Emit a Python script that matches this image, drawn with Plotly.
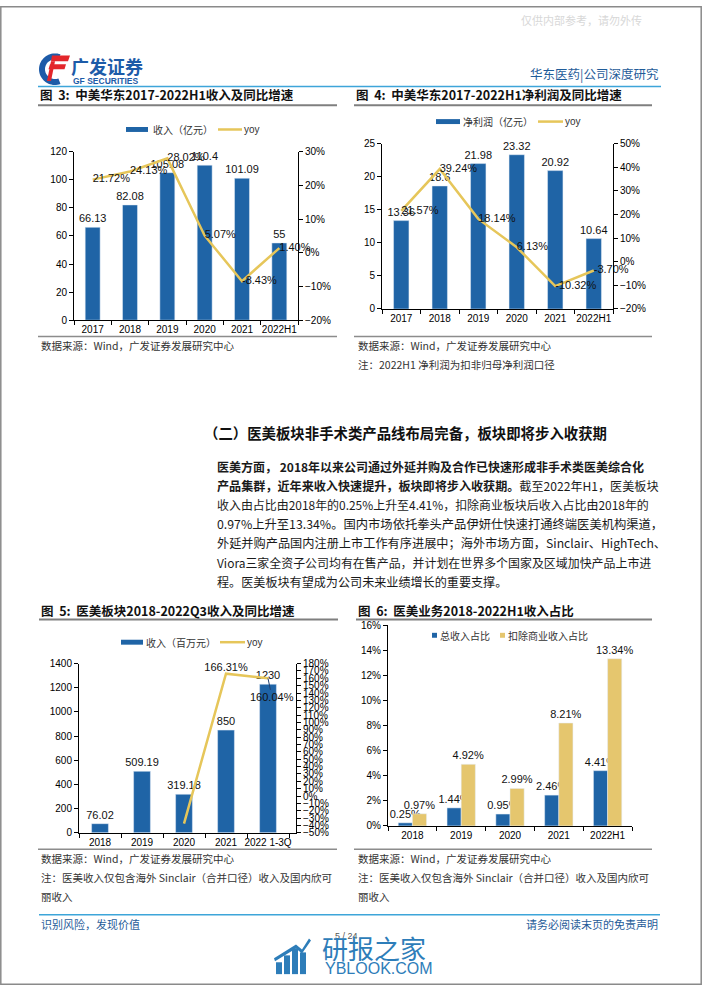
import plotly.graph_objects as go
import math

W, H = 702, 991

def X(p):
    return p / W

def Y(p):
    return 1 - p / H

# ---------------- data ----------------
years3 = ["2017", "2018", "2019", "2020", "2021", "2022H1"]
revenue3 = [66.13, 82.08, 105.08, 110.4, 101.09, 55]
revenue3_yoy = [21.72, 24.13, 28.02, 5.07, -8.43, 1.40]

years4 = ["2017", "2018", "2019", "2020", "2021", "2022H1"]
profit4 = [13.36, 18.6, 21.98, 23.32, 20.92, 10.64]
profit4_yoy = [21.57, 39.24, 18.14, 6.13, -10.32, -3.70]

years5 = ["2018", "2019", "2020", "2021", "2022 1-3Q"]
med5 = [76.02, 509.19, 319.18, 850, 1230]
med5_yoy = [None, None, -37.32, 166.31, 160.04]

years6 = ["2018", "2019", "2020", "2021", "2022H1"]
share_total6 = [0.25, 1.44, 0.95, 2.46, 4.41]
share_excl6 = [0.97, 4.92, 2.99, 8.21, 13.34]

BLUE = "#1F64A6"
YEL = "#E6C65A"
YEL_BAR = "#E5C66E"
NUMF = "Liberation Sans, Arial, sans-serif"
CJK = "Noto Sans CJK SC, sans-serif"
LBL = dict(size=11, color="#111", family=NUMF)

fig = go.Figure()

def bar(x, y, xa, ya, color, name, text, **kw):
    fig.add_trace(go.Bar(x=x, y=y, xaxis=xa, yaxis=ya, marker_color=color, text=text,
                         textposition="outside", constraintext="none", textfont=LBL,
                         cliponaxis=False, name=name, **kw))

# ---------- chart 3 ----------
bar(years3, revenue3, "x", "y", BLUE, "收入（亿元）", [f"{v:g}" for v in revenue3], width=0.4)
fig.add_trace(go.Scatter(x=years3, y=revenue3_yoy, xaxis="x", yaxis="y2", mode="lines+text",
                         line=dict(color=YEL, width=2.5), text=[f"{v:.2f}%" for v in revenue3_yoy],
                         textposition="middle right", textfont=LBL, cliponaxis=False, name="yoy"))
# ---------- chart 4 ----------
bar(years4, profit4, "x2", "y3", BLUE, "净利润（亿元）", [f"{v:g}" for v in profit4], width=0.4)
fig.add_trace(go.Scatter(x=years4, y=profit4_yoy, xaxis="x2", yaxis="y4", mode="lines+text",
                         line=dict(color=YEL, width=2.5), text=[f"{v:.2f}%" for v in profit4_yoy],
                         textposition="middle right", textfont=LBL, cliponaxis=False, name="yoy"))
# ---------- chart 5 ----------
bar(years5, med5, "x3", "y5", BLUE, "收入（百万元）", [f"{v:g}" for v in med5], width=0.4)
yoy5_text = ["" if v is None else f"{v:.2f}%" for v in med5_yoy]
yoy5_text[-1] = ""
fig.add_trace(go.Scatter(x=years5, y=med5_yoy, xaxis="x3", yaxis="y6", mode="lines+text",
                         line=dict(color=YEL, width=2.5), text=yoy5_text,
                         textposition=["middle right", "middle right", "middle right", "top center", "middle right"],
                         textfont=LBL, cliponaxis=False, connectgaps=False, name="yoy"))
fig.add_annotation(x=years5[-1], y=med5_yoy[-1], xref="x3", yref="y6", text=f"{med5_yoy[-1]:.2f}%",
                   showarrow=True, arrowhead=0, arrowwidth=1, arrowcolor="#1F3F6F", ax=4, ay=19,
                   font=LBL)
# ---------- chart 6 ----------
bar(years6, share_total6, "x4", "y7", BLUE, "总收入占比", [f"{v:.2f}%" for v in share_total6],
    width=0.29, offset=-0.29)
bar(years6, share_excl6, "x4", "y7", YEL_BAR, "扣除商业收入占比", [f"{v:.2f}%" for v in share_excl6],
    width=0.29, offset=0)

axbase = dict(showline=True, linecolor="#000", linewidth=1, ticks="outside", ticklen=4,
              tickcolor="#000", showgrid=False, zeroline=False,
              tickfont=dict(size=10, color="#000", family=NUMF))
xbase = dict(axbase, type="category", tickson="boundaries", tickangle=0, fixedrange=True)

fig.update_layout(
    xaxis=dict(xbase, domain=[X(74), X(298)], anchor="y"),
    yaxis=dict(axbase, domain=[Y(318), Y(147.5)], anchor="x", range=[0, 120], dtick=20),
    yaxis2=dict(axbase, overlaying="y", side="right", anchor="x", range=[-20, 30], dtick=10, ticksuffix="%"),
    xaxis2=dict(xbase, domain=[X(382), X(613)], anchor="y3"),
    yaxis3=dict(axbase, domain=[Y(306.7), Y(139.3)], anchor="x2", range=[0, 25], dtick=5),
    yaxis4=dict(axbase, overlaying="y3", side="right", anchor="x2", range=[-20, 50], dtick=10, ticksuffix="%"),
    xaxis3=dict(xbase, domain=[X(79), X(296)], anchor="y5"),
    yaxis5=dict(axbase, domain=[Y(837), Y(665.7)], anchor="x3", range=[0, 1400], dtick=200),
    yaxis6=dict(axbase, overlaying="y5", side="right", anchor="x3", range=[-50, 180], dtick=10, ticksuffix="%"),
    xaxis4=dict(xbase, domain=[X(388), X(632)], anchor="y7"),
    yaxis7=dict(axbase, domain=[Y(830), Y(627)], anchor="x4", range=[0, 16], dtick=2, ticksuffix="%"),
    width=W, height=H, margin=dict(l=0, r=0, t=0, b=0),
    paper_bgcolor="white", plot_bgcolor="rgba(0,0,0,0)", showlegend=False, barmode="group",
)

shapes = []
annots = []

def hline(y, x0, x1, color, width):
    shapes.append(dict(type="line", xref="paper", yref="paper", x0=X(x0), x1=X(x1), y0=Y(y), y1=Y(y),
                       line=dict(color=color, width=width)))

def rect(x0, y0, x1, y1, color):
    shapes.append(dict(type="rect", xref="paper", yref="paper", x0=X(x0), x1=X(x1), y0=Y(y1), y1=Y(y0),
                       fillcolor=color, line=dict(width=0)))

def path(points, color):
    d = "M " + " L ".join(f"{X(a):.5f},{Y(b):.5f}" for a, b in points) + " Z"
    shapes.append(dict(type="path", xref="paper", yref="paper", path=d, fillcolor=color, line=dict(width=0)))

def text(x, y, s, size, color="#222", family=CJK, anchor="left"):
    annots.append(dict(xref="paper", yref="paper", x=X(x), y=Y(y), text=s, showarrow=False,
                       xanchor=anchor, yanchor="middle", font=dict(size=size, color=color, family=family)))

# page border
shapes.append(dict(type="rect", xref="paper", yref="paper", x0=X(0.8), x1=X(701.2), y0=Y(990.2), y1=Y(0.8),
                   line=dict(color="#8A8A8A", width=1.5)))

# watermark top
text(519, 14, "仅供内部参考，请勿外传", 11, "#D8D8D8")

# logo
cx, cy = 55, 64
arc = []
for i in range(0, 41):
    a = math.radians(70 + i * 5.5)
    arc.append((cx + 16 * math.cos(a), cy - 16 * math.sin(a)))
for i in range(40, -1, -1):
    a = math.radians(70 + i * 5.5)
    arc.append((cx + 10 * math.cos(a), cy - 10 * math.sin(a)))
path(arc, "#1D5BA8")
path([(52, 50), (70, 50), (68, 56), (51, 56)], "#E3262B")
path([(50, 59), (66, 59), (64.5, 64), (48.5, 64)], "#E3262B")
path([(51, 56), (55, 56), (51, 76), (47, 76)], "#E3262B")
text(69, 61, "<b>广发证券</b>", 18, "#1D5BA8")
text(71, 76, "<b>GF SECURITIES</b>", 8.5, "#1D5BA8", NUMF)
text(661, 68, "华东医药|公司深度研究", 12.5, "#1F5C99", CJK, "right")
hline(81.5, 38, 661, "#3DA5D9", 1.5)

# figure titles
text(38, 90, "<b>图  3:  中美华东2017-2022H1收入及同比增速</b>", 12.5, "#111")
text(354, 90, "<b>图  4:  中美华东2017-2022H1净利润及同比增速</b>", 12.5, "#111")
hline(100.5, 38, 337, "#7F7F7F", 2)
hline(100.5, 354, 652, "#7F7F7F", 2)

# legends chart 3 & 4
rect(126, 122.5, 148, 127.5, BLUE)
text(151, 125, "收入（亿元）", 10, "#333")
hline(125, 218, 242, YEL, 2.5)
text(242, 125, "yoy", 10, "#333", NUMF)
rect(436, 114.5, 460, 119.5, BLUE)
text(461, 117, "净利润（亿元）", 10, "#333")
hline(117, 538, 563, YEL, 2.5)
text(563, 117, "yoy", 10, "#333", NUMF)

hline(334.5, 38, 337, "#8C8C8C", 1.5)
hline(334.5, 354, 652, "#8C8C8C", 1.5)
text(39, 344, "数据来源：Wind，广发证券发展研究中心", 10.5, "#333")
text(356, 344, "数据来源：Wind，广发证券发展研究中心", 10.5, "#333")
text(356, 363, "注：2022H1 净利润为扣非归母净利润口径", 10.5, "#333")

# section heading + paragraph
text(202, 432, "<b>（二）医美板块非手术类产品线布局完备，板块即将步入收获期</b>", 14.4, "#111")
para = [
    ("<b>医美方面， 2018年以来公司通过外延并购及合作已快速形成非手术类医美综合化</b>", 12.0),
    ("<b>产品集群，近年来收入快速提升，板块即将步入收获期。</b>截至2022年H1，医美板块", 12.1),
    ("收入由占比由2018年的0.25%上升至4.41%，扣除商业板块后收入占比由2018年的", 11.95),
    ("0.97%上升至13.34%。国内市场依托拳头产品伊妍仕快速打通终端医美机构渠道，", 12.3),
    ("外延并购产品国内注册上市工作有序进展中；海外市场方面，Sinclair、HighTech、", 12.2),
    ("Viora三家全资子公司均有在售产品，并计划在世界多个国家及区域加快产品上市进", 11.95),
    ("程。医美板块有望成为公司未来业绩增长的重要支撑。", 12.1),
]
for i, (s, sz) in enumerate(para):
    text(215, 466 + i * 19.4, s, sz, "#1A1A1A")

# figure 5 / 6 titles
text(39, 612, "<b>图  5:  医美板块2018-2022Q3收入及同比增速</b>", 12.5, "#111")
text(356, 612, "<b>图  6:  医美业务2018-2022H1收入占比</b>", 12.5, "#111")
hline(621, 39, 338, "#7F7F7F", 2)
hline(621, 356, 652, "#7F7F7F", 2)

rect(121, 641.5, 143, 646.5, BLUE)
text(144, 644, "收入（百万元）", 10, "#333")
hline(644, 220, 245, YEL, 2.5)
text(245, 644, "yoy", 10, "#333", NUMF)

rect(432, 634.5, 437, 639.5, BLUE)
text(438, 637, "总收入占比", 10, "#333")
rect(500, 634.5, 505, 639.5, YEL_BAR)
text(506, 637, "扣除商业收入占比", 10, "#333")

hline(853.5, 38, 337, "#8C8C8C", 1.5)
hline(853.5, 354, 652, "#8C8C8C", 1.5)
for x0 in (39, 356):
    text(x0, 863, "数据来源：Wind，广发证券发展研究中心", 10.5, "#333")
    text(x0, 882, "注：医美收入仅包含海外 Sinclair（合并口径）收入及国内欣可", 10.5, "#333")
    text(x0, 901, "丽收入", 10.5, "#333")

# footer
hline(920, 39, 660, "#3DA5D9", 1.5)
text(39, 929, "识别风险，发现价值", 11, "#1F5C99")
text(660, 929, "请务必阅读末页的免责声明", 11, "#1F5C99", CJK, "right")
text(346, 941, "5 / 24", 9, "#555", NUMF, "center")

# bottom watermark
WM = "#2D7DB9"
for bx, top in [(276, 968), (284, 961), (292, 954), (300, 958)]:
    rect(bx, top, bx + 6, 980, WM)
path([(274, 964), (296, 950), (302, 955), (309, 944), (311, 946), (302, 959), (296, 954), (275, 967)], WM)
text(320, 953, "研报之家", 26, WM)
text(323, 974, "YBLOOK.COM", 16, WM, NUMF)

fig.update_layout(shapes=shapes, annotations=list(fig.layout.annotations) + annots)
fig.write_html("out.html", config={"displayModeBar": False, "staticPlot": True},
               post_script="document.body.style.margin='0';document.body.style.overflow='hidden';")
